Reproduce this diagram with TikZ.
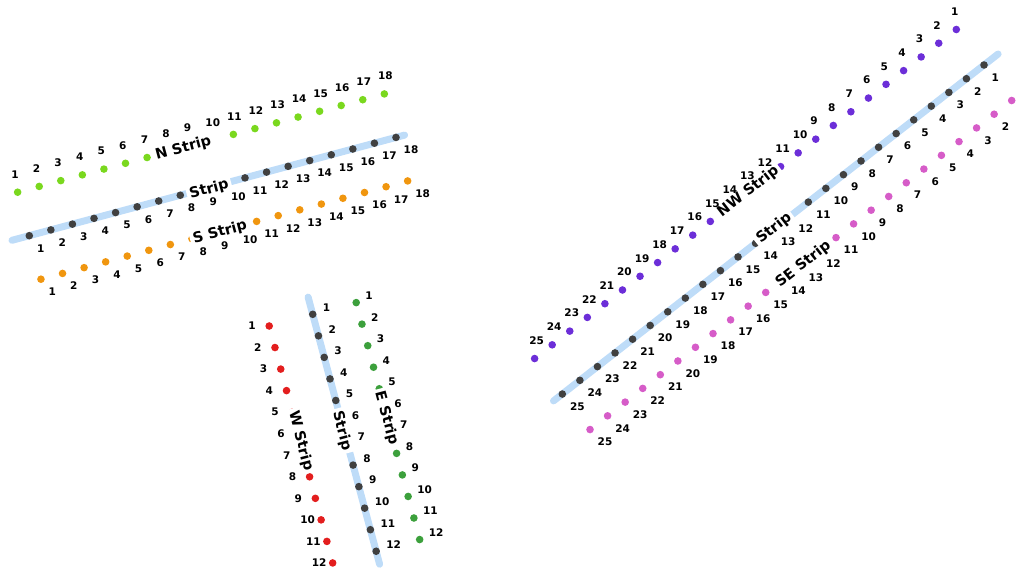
\documentclass[tikz,border=0pt]{standalone}
\usepackage{fontspec}
\setmainfont{DejaVu Sans}
\definecolor{trackblue}{RGB}{190,220,248}
\definecolor{dotgray}{RGB}{64,64,64}
\definecolor{limeg}{RGB}{122,216,30}
\definecolor{orangeo}{RGB}{240,150,15}
\definecolor{redr}{RGB}{227,30,30}
\definecolor{darkg}{RGB}{60,160,60}
\definecolor{purplep}{RGB}{108,46,216}
\definecolor{pinkp}{RGB}{214,92,200}
\tikzset{
  dotn/.style={circle,fill=#1,inner sep=0pt,minimum size=7.6pt},
  numlab/.style={anchor=west,inner sep=0pt,font=\bfseries\fontsize{10.5}{12}\selectfont},
  striplab/.style={fill=white,inner xsep=3pt,inner ysep=1pt,font=\bfseries\fontsize{14.5}{17}\selectfont},
  track/.style={line width=7pt,line cap=round,draw=trackblue},
}
\def\hlo{0}\def\hhi{0}
% prefix, x0, y0, dx, dy, n, colour
\newcommand\mkdots[7]{%
  \foreach \i in {1,...,#6}{%
    \pgfmathsetmacro\px{#2+(\i-1)*(#4)}%
    \pgfmathsetmacro\py{#3+(\i-1)*(#5)}%
    \coordinate (#1\i) at (\px,\py);
    \ifnum\i<\hlo\relax \node[dotn=#7] (#1d\i) at (#1\i) {};\fi
    \ifnum\i>\hhi\relax \node[dotn=#7] (#1d\i) at (#1\i) {};\fi
  }}
% prefix, n, ox, oy, from
\newcommand\mklabels[5]{%
  \foreach \i in {#5,...,#2}{%
    \node[numlab] (#1l\i) at ([shift={(#3,#4)}]#1\i) {\i};
  }}
\begin{document}
\begin{tikzpicture}[x=1pt,y=-1pt]
\useasboundingbox (0,0) rectangle (1019,572);
\clip (0,0) rectangle (1019,572);
% tracks
\coordinate (LA) at (12.0,240.3);
\coordinate (LB) at (404.6,135.1);
\coordinate (VA) at (308.1,297.1);
\coordinate (VB) at (379.6,564.2);
\coordinate (RA) at (998.1,54.0);
\coordinate (RB) at (553.5,400.9);
\draw[track] (LA) -- (LB);
\draw[track] (VA) -- (VB);
\draw[track] (RA) -- (RB);
% dots, left group
\def\hlo{8}\def\hhi{10}\mkdots{N}{17.65}{192.2}{21.57}{-5.78}{18}{limeg}
\def\hlo{9}\def\hhi{10}\mkdots{C}{29.3}{235.7}{21.57}{-5.78}{18}{dotgray}
\def\hlo{9}\def\hhi{10}\mkdots{S}{40.95}{279.2}{21.57}{-5.78}{18}{orangeo}
% dots, vertical group
\def\hlo{6}\def\hhi{7}\mkdots{W}{269.2}{326}{5.77}{21.54}{12}{redr}
\def\hlo{6}\def\hhi{7}\mkdots{V}{312.7}{314.3}{5.77}{21.54}{12}{dotgray}
\def\hlo{6}\def\hhi{7}\mkdots{E}{356.2}{302.6}{5.77}{21.54}{12}{darkg}
% dots, right group
\def\hlo{12}\def\hhi{14}\mkdots{P}{956.3}{29.5}{-17.57}{13.71}{25}{purplep}
\def\hlo{12}\def\hhi{13}\mkdots{R}{984}{65}{-17.57}{13.71}{25}{dotgray}
\def\hlo{12}\def\hhi{14}\mkdots{K}{1011.7}{100.5}{-17.57}{13.71}{25}{pinkp}
% strip names
\node[striplab,rotate=15] (tN) at (183.4,148.4) {N Strip};
\node[striplab,rotate=15] (tC) at (209.2,189.5) {Strip};
\node[striplab,rotate=15] (tS) at (220,232.5) {S Strip};
\node[striplab,rotate=-75] (tW) at (300.8,440.8) {W Strip};
\node[striplab,rotate=-75] (tV) at (342.2,430.8) {Strip};
\node[striplab,rotate=-75] (tE) at (386.7,418.3) {E Strip};
\node[striplab,rotate=38] (tP) at (748.3,191.7) {NW Strip};
\node[striplab,rotate=38] (tR) at (774,228.3) {Strip};
\node[striplab,rotate=38] (tK) at (803.3,264.2) {SE Strip};
% numbers
\mklabels{N}{18}{-6.5}{-18}{1}
\mklabels{C}{18}{7.5}{12.5}{1}
\mklabels{S}{18}{7.5}{12.5}{1}
\mklabels{W}{12}{-21}{0}{1}
\mklabels{V}{12}{10}{-6.5}{1}
\mklabels{E}{12}{9}{-7}{1}
\mklabels{P}{25}{-5.5}{-18}{1}
\mklabels{R}{25}{7.5}{12.5}{1}
\mklabels{K}{25}{7.5}{12.3}{2}
\end{tikzpicture}
\end{document}
